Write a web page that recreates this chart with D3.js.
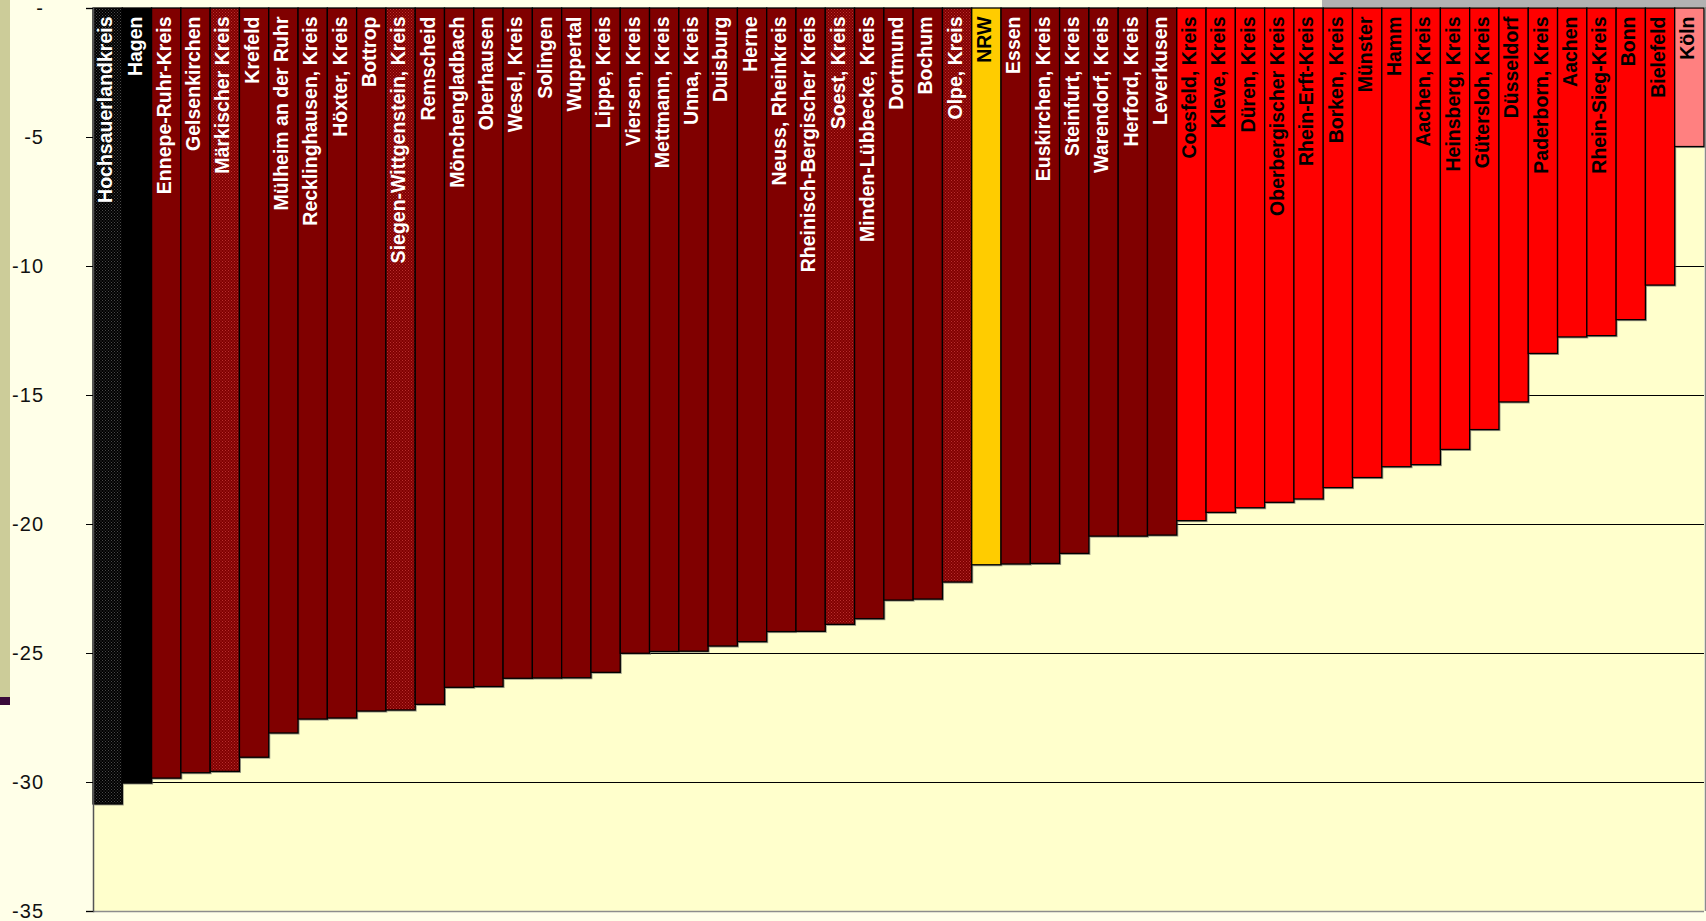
<!DOCTYPE html>
<html>
<head>
<meta charset="utf-8">
<script src="https://cdn.jsdelivr.net/npm/d3@7/dist/d3.min.js"></script>
<style>
  html, body { margin: 0; padding: 0; background: #FFFFE8; }
  svg { display: block; }
  text { font-family: "Liberation Sans", Arial, sans-serif; }
</style>
</head>
<body>
<svg id="chart" width="1706" height="921"></svg>
<script>
// Kreise und kreisfreie Städte in NRW, sortiert nach Veränderung (%)
const categories = [
  "Hochsauerlandkreis", "Hagen", "Ennepe-Ruhr-Kreis", "Gelsenkirchen", "Märkischer Kreis",
  "Krefeld", "Mülheim an der Ruhr", "Recklinghausen, Kreis", "Höxter, Kreis", "Bottrop",
  "Siegen-Wittgenstein, Kreis", "Remscheid", "Mönchengladbach", "Oberhausen", "Wesel, Kreis",
  "Solingen", "Wuppertal", "Lippe, Kreis", "Viersen, Kreis", "Mettmann, Kreis",
  "Unna, Kreis", "Duisburg", "Herne", "Neuss, Rheinkreis", "Rheinisch-Bergischer Kreis",
  "Soest, Kreis", "Minden-Lübbecke, Kreis", "Dortmund", "Bochum", "Olpe, Kreis",
  "NRW", "Essen", "Euskirchen, Kreis", "Steinfurt, Kreis", "Warendorf, Kreis",
  "Herford, Kreis", "Leverkusen", "Coesfeld, Kreis", "Kleve, Kreis", "Düren, Kreis",
  "Oberbergischer Kreis", "Rhein-Erft-Kreis", "Borken, Kreis", "Münster", "Hamm",
  "Aachen, Kreis", "Heinsberg, Kreis", "Gütersloh, Kreis", "Düsseldorf", "Paderborn, Kreis",
  "Aachen", "Rhein-Sieg-Kreis", "Bonn", "Bielefeld", "Köln"
];

const values = [
  -30.85, -30.04, -29.85, -29.64, -29.59,
  -29.04, -28.10, -27.56, -27.52, -27.25,
  -27.21, -26.99, -26.33, -26.30, -25.98,
  -25.97, -25.96, -25.75, -25.01, -24.94,
  -24.93, -24.73, -24.56, -24.17, -24.16,
  -23.89, -23.67, -22.95, -22.91, -22.25,
  -21.58, -21.55, -21.53, -21.14, -20.47,
  -20.47, -20.43, -19.87, -19.55, -19.37,
  -19.16, -19.03, -18.59, -18.20, -17.78,
  -17.70, -17.11, -16.34, -15.27, -13.39,
  -12.75, -12.70, -12.08, -10.74, -5.37
];

// Kreise der Region Südwestfalen (gerastert dargestellt)
const suedwestfalen = [
  "Hochsauerlandkreis", "Märkischer Kreis", "Siegen-Wittgenstein, Kreis", "Soest, Kreis", "Olpe, Kreis"
];

const average = "NRW";
const classBreaks = [-30, -20, -10];
const yTicks = [0, -5, -10, -15, -20, -25, -30, -35];

const data = categories.map((c, i) => ({ name: c, value: values[i] }));

const svg = d3.select("#chart");
const W = 1706, H = 921;
const plot = { left: 93, right: 1704, top: 8, bottom: 911 };

// Hintergrund-Elemente
svg.append("rect").attr("x", 0).attr("y", 0).attr("width", W).attr("height", H).attr("fill", "#FFFFE8");
svg.append("rect").attr("x", 0).attr("y", 0).attr("width", 10).attr("height", 697).attr("fill", "#CCCC99");
svg.append("rect").attr("x", 0).attr("y", 697).attr("width", 10).attr("height", 8).attr("fill", "#3A0A3A");
svg.append("rect").attr("x", 1322).attr("y", 0).attr("width", W - 1322).attr("height", 7).attr("fill", "#B2B2B2");

// Raster-Muster
const defs = svg.append("defs");
function dotPattern(id, base, dot) {
  const p = defs.append("pattern").attr("id", id).attr("patternUnits", "userSpaceOnUse")
    .attr("width", 3).attr("height", 3);
  p.append("rect").attr("width", 3).attr("height", 3).attr("fill", base);
  p.append("rect").attr("x", 0).attr("y", 0).attr("width", 1).attr("height", 1).attr("fill", dot);
  p.append("rect").attr("x", 1.5).attr("y", 1.5).attr("width", 1).attr("height", 1).attr("fill", dot);
}
dotPattern("dots-black", "#000000", "#4a4a4a");
dotPattern("dots-darkred", "#800000", "#B83030");

// Skalen
const x = d3.scaleBand().domain(categories).range([plot.left, plot.right]).padding(0);
const y = d3.scaleLinear().domain([0, -35]).range([plot.top, plot.bottom]);

const fillClass = d3.scaleThreshold().domain(classBreaks)
  .range(["#000000", "#800000", "#FF0000", "#FF8080"]);
const patternClass = d3.scaleThreshold().domain(classBreaks)
  .range(["url(#dots-black)", "url(#dots-darkred)", "#FF0000", "#FF8080"]);
const textClass = d3.scaleThreshold().domain(classBreaks)
  .range(["#FFFFFF", "#FFFFFF", "#000000", "#000000"]);

function barFill(d) {
  if (d.name === average) return "#FFCC00";
  if (suedwestfalen.includes(d.name)) return patternClass(d.value);
  return fillClass(d.value);
}
function labelFill(d) {
  if (d.name === average) return "#000000";
  return textClass(d.value);
}

// Zeichenfläche
svg.append("rect")
  .attr("x", plot.left).attr("y", plot.top)
  .attr("width", plot.right - plot.left).attr("height", plot.bottom - plot.top)
  .attr("fill", "#FFFFCC");

// Gitterlinien
svg.append("g").selectAll("line")
  .data(yTicks.filter(t => t !== -35))
  .join("line")
  .attr("x1", plot.left).attr("x2", plot.right)
  .attr("y1", d => Math.round(y(d)) + 0.5).attr("y2", d => Math.round(y(d)) + 0.5)
  .attr("stroke", "#000000").attr("stroke-width", 1);

// Schatten der Balken
svg.append("g").selectAll("rect")
  .data(data)
  .join("rect")
  .attr("x", d => x(d.name) + 1.5)
  .attr("y", y(0) + 1.5)
  .attr("width", x.bandwidth())
  .attr("height", d => y(d.value) - y(0))
  .attr("fill", "#555555")
  .attr("opacity", 0.6);

// Balken
svg.append("g").selectAll("rect")
  .data(data)
  .join("rect")
  .attr("x", d => x(d.name))
  .attr("y", y(0))
  .attr("width", x.bandwidth())
  .attr("height", d => y(d.value) - y(0))
  .attr("fill", barFill)
  .attr("stroke", "#000000")
  .attr("stroke-width", 1.3);

// Beschriftung in den Balken
svg.append("g").selectAll("text")
  .data(data)
  .join("text")
  .attr("transform", d => `translate(${x(d.name) + x.bandwidth() / 2},${16.5}) rotate(-90)`)
  .attr("text-anchor", "end")
  .attr("dy", "0.24em")
  .attr("font-size", "19.5px")
  .attr("font-weight", "bold")
  .attr("fill", labelFill)
  .text(d => d.name);

// Rahmenlinien rechts und unten
svg.append("line").attr("x1", 1705.5).attr("x2", 1705.5).attr("y1", 7).attr("y2", plot.bottom)
  .attr("stroke", "#8C8C8C").attr("stroke-width", 1.5);
svg.append("line").attr("x1", plot.left).attr("x2", plot.right).attr("y1", plot.bottom + 0.5).attr("y2", plot.bottom + 0.5)
  .attr("stroke", "#8C8C8C").attr("stroke-width", 1.5);

// y-Achse
const yAxis = d3.axisLeft(y)
  .tickValues(yTicks)
  .tickSize(7)
  .tickPadding(42)
  .tickFormat(d => d === 0 ? "-" : d3.format("d")(d).replace("−", "-"));

const gAxis = svg.append("g")
  .attr("transform", `translate(${plot.left},0)`)
  .call(yAxis);
gAxis.select(".domain").attr("stroke", "#555555").attr("stroke-width", 1.5);
gAxis.selectAll(".tick line").attr("stroke", "#000000");
gAxis.selectAll(".tick text")
  .attr("font-size", "20px")
  .attr("font-family", "'Liberation Sans', Arial, sans-serif")
  .attr("letter-spacing", "1px")
  .attr("fill", "#111111");
</script>
</body>
</html>
